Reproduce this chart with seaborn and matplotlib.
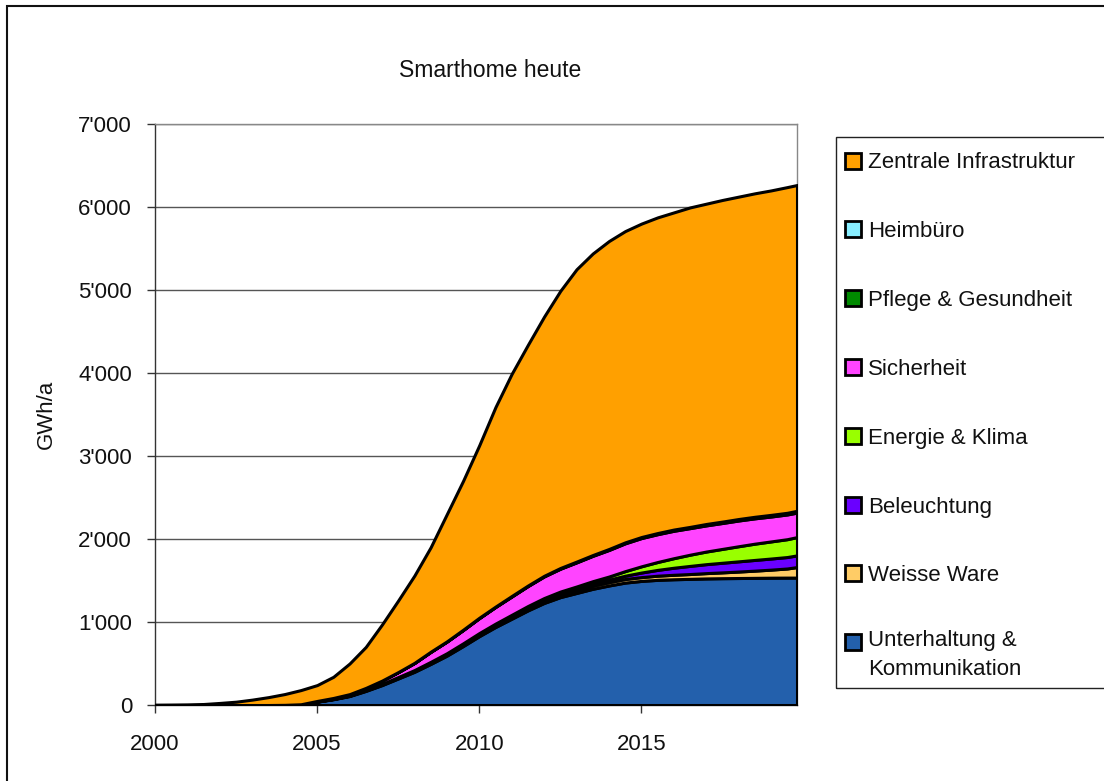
import matplotlib
matplotlib.use("Agg")
import matplotlib.pyplot as plt
import seaborn as sns
from matplotlib.patches import Rectangle
from matplotlib.ticker import FuncFormatter

jahre = [2000, 2000.5, 2001, 2001.5, 2002, 2002.5, 2003, 2003.5, 2004, 2004.5,
         2005, 2005.5, 2006, 2006.5, 2007, 2007.5, 2008, 2008.5, 2009, 2009.5,
         2010, 2010.5, 2011, 2011.5, 2012, 2012.5, 2013, 2013.5, 2014, 2014.5,
         2015, 2015.5, 2016, 2016.5, 2017, 2017.5, 2018, 2018.5, 2019, 2019.5,
         2019.8]

unterhaltung = [0, 0, 0, 0, 0, 0, 0, 0, 0, 5,
                40, 70, 108, 170, 240, 320, 400, 495, 595, 710,
                830, 940, 1040, 1140, 1230, 1300, 1350, 1400, 1440, 1475,
                1495, 1508, 1515, 1520, 1525, 1528, 1530, 1532, 1534, 1535,
                1535]
weisse_ware = [0, 0, 0, 0, 0, 0, 0, 0, 0, 0,
               2, 3, 5, 7, 9, 11, 13, 15, 17, 19,
               21, 23, 25, 27, 29, 32, 35, 38, 40, 43,
               46, 50, 54, 58, 64, 70, 78, 87, 97, 110,
               127]
beleuchtung = [0, 0, 0, 0, 0, 0, 0, 0, 0, 0,
               1, 2, 3, 4, 5, 6, 7, 8, 9, 10,
               11, 12, 14, 16, 18, 20, 23, 26, 30, 40,
               55, 70, 85, 98, 108, 116, 123, 129, 134, 138,
               141]
energie = [0, 0, 0, 0, 0, 0, 0, 0, 0, 0,
           0, 0, 0, 0, 0, 0, 1, 2, 3, 4,
           5, 6, 8, 10, 12, 15, 20, 28, 38, 55,
           75, 95, 115, 135, 152, 167, 182, 196, 206, 215,
           220]
sicherheit = [0, 0, 0, 0, 0, 0, 0, 0, 2, 4,
              6, 10, 15, 25, 40, 60, 85, 120, 140, 160,
              180, 200, 220, 240, 260, 275, 290, 305, 320, 335,
              340, 335, 330, 320, 315, 312, 310, 305, 300, 298,
              295]
pflege = [0, 0, 0, 0, 0, 0, 0, 0, 0, 0,
          0, 0, 0, 0, 0, 0, 1, 1, 2, 2,
          3, 3, 4, 4, 5, 5, 6, 6, 7, 7,
          8, 8, 9, 9, 10, 10, 11, 11, 12, 12,
          13]
heimbuero = [0, 0, 0, 0, 0, 0, 0, 0, 0, 0,
             0, 0, 0, 0, 0, 0, 1, 1, 1, 2,
             2, 2, 3, 3, 3, 4, 4, 4, 5, 5,
             5, 6, 6, 6, 7, 7, 7, 8, 8, 8,
             9]
zentrale = [0, 2, 5, 12, 25, 40, 65, 95, 130, 171,
            191, 255, 369, 494, 676, 863, 1052, 1258, 1533, 1793,
            2078, 2404, 2676, 2900, 3123, 3339, 3522, 3633, 3710, 3750,
            3776, 3803, 3821, 3849, 3859, 3875, 3884, 3897, 3909, 3924,
            3925]

kategorien = ["Unterhaltung &\nKommunikation", "Weisse Ware", "Beleuchtung",
              "Energie & Klima", "Sicherheit", "Pflege & Gesundheit",
              "Heimbüro", "Zentrale Infrastruktur"]
farben = ["#2360AC", "#FFCC66", "#6A00FF", "#99FF00", "#FF44FF",
          "#008A00", "#88EEFF", "#FFA000"]

sns.set_theme(style="white")
plt.rcParams["font.family"] = ["Liberation Sans", "DejaVu Sans"]

W, H = 1104, 781
fig = plt.figure(figsize=(W / 100, H / 100), dpi=100)
ax = fig.add_axes([155 / W, 76 / H, 642 / W, 581 / H])

ax.stackplot(jahre, unterhaltung, weisse_ware, beleuchtung, energie,
             sicherheit, pflege, heimbuero, zentrale,
             colors=farben, edgecolor="black", linewidth=2.2, zorder=3)

ax.set_xlim(2000, 2019.8)
ax.set_ylim(0, 7000)
ax.set_xticks([2000, 2005, 2010, 2015])
ax.set_yticks(range(0, 7001, 1000))
ax.yaxis.set_major_formatter(FuncFormatter(lambda v, p: f"{int(v):,}".replace(",", "'")))
ax.grid(axis="y", color="#555555", linewidth=1)
ax.tick_params(axis="both", direction="out", length=6, width=1, color="#333333",
               labelsize=16, colors="#111111", left=True, bottom=True)
ax.tick_params(axis="x", pad=15)
ax.tick_params(axis="y", pad=10.5)
for s in ["left", "bottom"]:
    ax.spines[s].set_color("#333333")
    ax.spines[s].set_linewidth(1)
for s in ["top", "right"]:
    ax.spines[s].set_color("#888888")
    ax.spines[s].set_linewidth(1)

ax.set_ylabel("GWh/a", fontsize=16, color="#111111")
ax.yaxis.set_label_coords((57 - 155) / 642, 0.5)

fig.text(490 / W, 1 - 77 / H, "Smarthome heute", ha="center", va="baseline",
         fontsize=16.5, color="#111111")

# Legende von Hand, wie im Excel-Diagramm
fig.patches.append(Rectangle((836 / W, 1 - 688 / H), 300 / W, 551 / H,
                             transform=fig.transFigure, fill=False,
                             edgecolor="#222222", linewidth=1))
for i, (name, col) in enumerate(zip(kategorien[::-1], farben[::-1])):
    yc = 160.5 + i * 68.8
    fig.patches.append(Rectangle((845 / W, 1 - (yc + 8) / H), 16 / W, 16 / H,
                                 transform=fig.transFigure, facecolor=col,
                                 edgecolor="black", linewidth=2))
    if "\n" in name:
        fig.text(868 / W, 1 - (yc + 8 - 20.1) / H, name, ha="left", va="top",
                 fontsize=16, color="#111111", linespacing=1.49)
    else:
        fig.text(868 / W, 1 - (yc + 8) / H, name, ha="left", va="baseline",
                 fontsize=16, color="#111111")

fig.patches.append(Rectangle((7 / W, -0.05), 1.2, 1 - 6 / H + 0.05,
                             transform=fig.transFigure, fill=False,
                             edgecolor="#111111", linewidth=1.5))

fig.savefig("out.png", dpi=100)
